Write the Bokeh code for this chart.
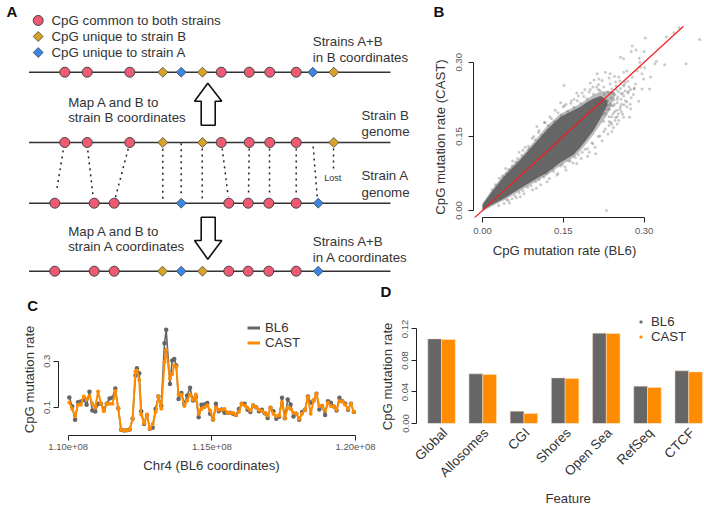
from math import pi
from bokeh.core.properties import value
from bokeh.embed import file_html
from bokeh.models import FixedTicker, Legend, LegendItem, Range1d
from bokeh.plotting import figure
from bokeh.resources import INLINE

FONT = "Liberation Sans"
GREY = "#666666"
ORANGE = "#FF8C00"
RED = "#EE5A72"
GOLD = "#D9A328"
BLUE = "#3B86E2"

# ---------- Panel A: schematic (positions along each genome line) ----------
line_b_merged_circles = [64.3, 86.7, 129.3, 220.7, 248.7, 269.3, 295.7]
line_b_merged_gold = [162.3, 202, 333.3]
line_b_merged_blue = [180.7, 312.3]
line_b_circles = [64.3, 86.7, 129.3, 220.7, 248.7, 269.3, 295.7]
line_b_gold = [162.3, 202, 333.3]
line_a_circles = [54.3, 93.7, 113.7, 228.3, 247.7, 268.3, 295.7]
line_a_blue = [180.7, 317.7]
line_a_merged_circles = [54.3, 93.7, 113.7, 228.3, 247.7, 268.3, 295.7]
line_a_merged_gold = [162, 202]
line_a_merged_blue = [180.7, 317.7]
genome_rows = [71.7, 142, 202.7, 270.7]
link_x0 = [62.7, 87.3, 127.7, 162.3, 180.7, 201.7, 221.7, 248.7, 269, 295.7, 312.7, 333]
link_y0 = [150, 150, 148.3, 148.3, 142.7, 148, 148, 148, 148, 148, 146, 148]
link_x1 = [56, 92.7, 115, 162.3, 180.7, 201.7, 227.7, 248, 269, 295.7, 316.7, 333]
link_y1 = [190.7, 196.7, 196.7, 199.3, 196.7, 199.3, 196, 196, 196, 196, 196.7, 171.7]
a_text = ["CpG common to both strains", "CpG unique to strain B", "CpG unique to strain A",
          "Strains A+B", "in B coordinates", "Map A and B to", "strain B coordinates",
          "Strain B", "genome", "Strain A", "genome", "Map A and B to",
          "strain A coordinates", "Strains A+B", "in A coordinates"]
a_text_x = [51, 51, 51, 312.3, 312.3, 67.7, 67.7, 361, 361, 361, 361, 67.7, 67.7, 312.3, 312.3]
a_text_y = [20, 36, 52, 41, 57, 101.7, 117.3, 115, 131, 175.3, 192, 230.7, 246.3, 241, 257]
up_arrow_x = [207.3, 221.3, 214.7, 214.7, 200.7, 200.7, 194]
up_arrow_y = [82.7, 100.7, 100.7, 124.7, 124.7, 100.7, 100.7]
down_arrow_x = [200.7, 214.7, 214.7, 221.3, 207.3, 194, 200.7]
down_arrow_y = [216.7, 216.7, 240, 240, 258.7, 240, 240]

# ---------- Panel B: values ----------
cloud_x = [0, .0148, .039, .0705, .0983, .1206, .1447, .1688, .1818, .1948, .2059, .2189, .232]
cloud_hi = [.012, .034, .068, .103, .137, .165, .190, .203, .210, .220, .226, .232, .222]
cloud_lo = [0, .010, .024, .045, .063, .077, .097, .113, .128, .146, .162, .186, .214]
halo_x = [0, .0148, .039, .0705, .0983, .1206, .1447, .1688, .1818, .1948, .2059, .2189, .232, .246]
halo_hi = [.014, .038, .073, .108, .143, .172, .196, .209, .216, .226, .234, .241, .242, .240]
halo_lo = [-.002, .007, .020, .040, .058, .072, .091, .107, .121, .138, .154, .174, .194, .232]
scatter_points = [
    (.365, .370), (.341, .351), (.355, .360), (.302, .349), (.403, .346), (.278, .333), (.285, .325),
    (.276, .322), (.300, .322), (.256, .310), (.262, .307), (.291, .308), (.292, .300), (.323, .302),
    (.320, .297), (.338, .295), (.378, .297), (.301, .289), (.293, .290), (.287, .283), (.312, .270),
    (.299, .266), (.310, .246), (.296, .246), (.281, .246), (.271, .241), (.290, .221), (.275, .206),
    (.262, .189), (.273, .189), (.213, .277), (.228, .280), (.207, .264), (.216, .266), (.262, .280),
    (.278, .270), (.268, .283), (.265, .260), (.253, .270), (.237, .277), (.247, .260), (.237, .256),
    (.222, .263), (.284, .256), (.296, .277), (.215, .255), (.225, .250), (.235, .268), (.245, .272),
    (.255, .262), (.262, .252), (.270, .262), (.275, .245), (.280, .235), (.260, .238), (.250, .225),
    (.265, .222), (.255, .205), (.245, .200), (.250, .190), (.258, .215), (.240, .212), (.232, .205),
    (.225, .195), (.240, .190), (.235, .180), (.225, .180), (.245, .215), (.215, .245), (.205, .250),
    (.200, .258), (.198, .240), (.190, .245), (.185, .238), (.178, .232), (.170, .225), (.175, .238),
    (.165, .222), (.155, .215), (.150, .210), (.145, .218), (.135, .203), (.125, .190), (.115, .178),
    (.105, .162), (.095, .150), (.085, .130), (.075, .122), (.065, .105), (.055, .090), (.045, .075),
    (.035, .060), (.025, .045), (.015, .025), (.151, .253), (.230, .000), (.101, .170),
    (.030, .010), (.045, .022), (.060, .030), (.075, .040), (.090, .050), (.105, .062), (.118, .075),
    (.130, .085), (.145, .090), (.160, .100), (.172, .108), (.185, .118), (.195, .125), (.205, .135),
    (.215, .150), (.225, .160), (.235, .172), (.050, .015), (.070, .028), (.100, .045), (.120, .058),
    (.140, .075), (.155, .082), (.175, .095), (.195, .110), (.210, .115), (.240, .160), (.250, .175),
    (.018, .042), (.024, .052), (.031, .066), (.037, .070), (.043, .085), (.049, .083), (.056, .100),
    (.062, .098), (.068, .118), (.073, .112), (.079, .128), (.086, .124), (.092, .146), (.098, .143),
    (.104, .158), (.110, .153), (.116, .178), (.122, .172), (.128, .186), (.134, .180), (.140, .198),
    (.146, .193), (.152, .212), (.158, .201), (.164, .217), (.170, .209), (.176, .222), (.182, .217),
    (.188, .231), (.194, .226), (.200, .245), (.206, .236), (.212, .250), (.218, .243),
    (.040, .014), (.048, .020), (.055, .024), (.063, .026), (.068, .036), (.077, .034), (.084, .047),
    (.093, .042), (.099, .058), (.108, .052), (.114, .068), (.124, .065), (.132, .079), (.138, .072),
    (.148, .093), (.153, .088), (.163, .100), (.168, .096), (.178, .113), (.183, .105), (.190, .124),
    (.198, .118), (.203, .137), (.209, .128), (.218, .151), (.222, .141), (.228, .165), (.233, .155),
    (.238, .178), (.243, .168), (.247, .188), (.253, .182),
    (.205, .215), (.212, .222), (.219, .228), (.226, .235), (.233, .240), (.240, .246), (.248, .252),
    (.210, .200), (.218, .208), (.225, .215), (.232, .222), (.239, .228), (.246, .235), (.253, .240),
    (.228, .198), (.236, .205), (.243, .212), (.250, .218), (.257, .225), (.262, .232), (.235, .190),
    (.242, .196), (.249, .203), (.256, .210), (.263, .214), (.268, .220), (.240, .175), (.246, .182),
    (.252, .196), (.258, .200), (.222, .228), (.229, .222), (.237, .215), (.244, .224), (.251, .230),
    (.258, .236), (.265, .242), (.272, .250), (.226, .205), (.233, .212), (.241, .238), (.249, .244),
    (.256, .247), (.263, .255), (.270, .238), (.276, .228), (.282, .248), (.268, .210), (.260, .195),
    (.274, .215)]
out_x = [pt[0] for pt in scatter_points]
out_y = [pt[1] for pt in scatter_points]
identity_line = [-.03, .373]
b_ticks = [0, .15, .30]
b_labels = ["0.00", "0.15", "0.30"]

# ---------- Panel C: values ----------
pos_mb = [110.04, 110.14, 110.24, 110.34, 110.44, 110.54, 110.64, 110.74, 110.84, 110.94,
          111.04, 111.14, 111.24, 111.34, 111.44, 111.54, 111.64, 111.74, 111.84, 111.94,
          112.04, 112.14, 112.24, 112.34, 112.39, 112.47, 112.54, 112.64, 112.74, 112.84,
          112.94, 113.04, 113.14, 113.24, 113.35, 113.41, 113.54, 113.62, 113.69, 113.76,
          113.84, 113.94, 114.04, 114.14, 114.24, 114.34, 114.44, 114.54, 114.64, 114.74,
          114.84, 114.94, 115.04, 115.14, 115.24, 115.34, 115.44, 115.54, 115.64, 115.74,
          115.84, 115.94, 116.04, 116.14, 116.24, 116.34, 116.44, 116.54, 116.64, 116.74,
          116.84, 116.94, 117.04, 117.14, 117.24, 117.34, 117.44, 117.54, 117.64, 117.74,
          117.84, 117.94, 118.04, 118.14, 118.24, 118.34, 118.44, 118.54, 118.64, 118.74,
          118.84, 118.94, 119.04, 119.14, 119.24, 119.34, 119.44, 119.54, 119.64, 119.74,
          119.84, 119.94]
bl6_rate = [.143, .104, .047, .123, .126, .133, .112, .168, .087, .083,
            .116, .116, .094, .116, .139, .142, .182, .097, .004, .001,
            .002, .005, .051, .238, .270, .248, .084, .029, .068, .008,
            .012, .094, .148, .106, .378, .436, .202, .303, .310, .281,
            .137, .163, .116, .152, .185, .130, .145, .058, .112, .113,
            .119, .073, .048, .116, .084, .091, .077, .077, .077, .073,
            .068, .094, .116, .116, .090, .080, .109, .101, .084, .090,
            .075, .055, .099, .084, .051, .060, .142, .054, .135, .113,
            .061, .073, .047, .080, .090, .148, .120, .130, .159, .091,
            .106, .068, .127, .120, .104, .087, .142, .127, .116, .090,
            .116, .080]
cast_rate = [.122, .094, .063, .112, .112, .148, .137, .150, .116, .100,
             .169, .116, .084, .116, .116, .116, .171, .097, .004, .001,
             .002, .005, .051, .256, .260, .220, .070, .032, .070, .008,
             .029, .080, .148, .095, .296, .349, .224, .245, .281, .277,
             .155, .155, .106, .130, .156, .133, .156, .073, .094, .101,
             .109, .087, .048, .099, .090, .090, .094, .077, .077, .076,
             .068, .080, .116, .109, .099, .087, .109, .101, .090, .085,
             .076, .065, .099, .073, .062, .065, .123, .054, .099, .094,
             .077, .073, .051, .073, .090, .145, .073, .130, .159, .106,
             .106, .087, .120, .106, .104, .090, .127, .127, .112, .094,
             .116, .080]
c_xticks = [110, 115, 120]
c_xlabels = ["1.10e+08", "1.15e+08", "1.20e+08"]
c_yticks = [.1, .3]
c_ylabels = ["0.1", "0.3"]

# ---------- Panel D: values ----------
features = ["Global", "Allosomes", "CGI", "Shores", "Open Sea", "RefSeq", "CTCF"]
feat_bl6 = [.1074, .0630, .0156, .0579, .1146, .0474, .0668]
feat_cast = [.1066, .0622, .0127, .0571, .1142, .0457, .0655]
d_yticks = [0, .04, .08, .12]
d_ylabels = ["0.00", "0.04", "0.08", "0.12"]


def style_axis(ax, tick_standoff):
    ax.major_label_text_font = FONT
    ax.major_label_text_font_size = "9.5px"
    ax.major_label_text_color = "#555555"
    ax.major_label_standoff = tick_standoff
    ax.major_tick_in = 0
    ax.major_tick_out = 5
    ax.minor_tick_out = 0
    ax.minor_tick_in = 0
    ax.axis_line_color = "#222222"
    ax.major_tick_line_color = "#222222"
    ax.axis_line_width = 1
    ax.major_tick_line_width = 1


def base_fig(px, py, w, h, xr, yr, left, right, top, bottom):
    p = figure(width=w, height=h, x_range=Range1d(*xr), y_range=Range1d(*yr),
               toolbar_location=None, output_backend="svg",
               min_border_left=left, min_border_right=right, min_border_top=top,
               min_border_bottom=bottom,
               styles={"position": "absolute", "left": f"{px}px", "top": f"{py}px"})
    p.grid.visible = False
    p.outline_line_color = None
    return p


# Panel A
pa = base_fig(0, 0, 420, 278, (0, 420), (278, 0), 0, 0, 0, 0)
pa.xaxis.visible = False
pa.yaxis.visible = False
for y0 in genome_rows:
    pa.line([28.5, 390], [y0, y0], line_color="#333333", line_width=1.6)
pa.segment(link_x0, link_y0, link_x1, link_y1, line_color="#222222", line_width=1.5, line_dash="2 4")


def marks(p, xs, y0, kind):
    ys = [y0] * len(xs)
    if kind == "c":
        p.scatter(xs, ys, marker="circle", size=10, fill_color=RED, line_color="#444444", line_width=1)
    else:
        p.scatter(xs, ys, marker="square", size=7, angle=pi / 4, fill_color=GOLD if kind == "g" else BLUE,
                  line_color="#444444", line_width=0.8)


marks(pa, [37.7], 20, "c")
marks(pa, [37.7], 36, "g")
marks(pa, [37.7], 52, "b")
marks(pa, line_b_merged_circles, genome_rows[0], "c")
marks(pa, line_b_merged_gold, genome_rows[0], "g")
marks(pa, line_b_merged_blue, genome_rows[0], "b")
marks(pa, line_b_circles, genome_rows[1], "c")
marks(pa, line_b_gold, genome_rows[1], "g")
marks(pa, line_a_circles, genome_rows[2], "c")
marks(pa, line_a_blue, genome_rows[2], "b")
marks(pa, line_a_merged_circles, genome_rows[3], "c")
marks(pa, line_a_merged_gold, genome_rows[3], "g")
marks(pa, line_a_merged_blue, genome_rows[3], "b")
pa.patch(up_arrow_x, up_arrow_y, fill_color="white", line_color="#111111", line_width=1.6)
pa.patch(down_arrow_x, down_arrow_y, fill_color="white", line_color="#111111", line_width=1.6)
pa.text(a_text_x, a_text_y, text=a_text, text_font=value(FONT), text_font_size="13.3px",
        text_color="#333333", text_baseline="middle")
pa.text([332.3], [177.7], text=["Lost"], text_font=value(FONT), text_font_size="9px",
        text_color="#333333", text_baseline="middle", text_align="center")

# Panel B
pb = base_fig(420, 0, 284, 278, (-.0167, .412), (-.0142, .3745), 53, 0, 25, 61)
pb.xaxis.ticker = FixedTicker(ticks=b_ticks)
pb.yaxis.ticker = FixedTicker(ticks=b_ticks)
pb.xaxis.bounds = (0, .30)
pb.yaxis.bounds = (0, .30)
pb.xaxis.major_label_overrides = dict(zip(b_ticks, b_labels))
pb.yaxis.major_label_overrides = dict(zip(b_ticks, b_labels))
style_axis(pb.xaxis[0], 5)
style_axis(pb.yaxis[0], 6)
pb.yaxis.major_label_orientation = "vertical"
pb.varea(halo_x, halo_lo, halo_hi, fill_color="#777777", fill_alpha=0.5)
pb.varea(cloud_x, cloud_lo, cloud_hi, fill_color=GREY)
pb.scatter(out_x, out_y, marker="circle", size=3, fill_color=GREY, fill_alpha=0.35, line_color=None)
pb.line(identity_line, identity_line, line_color="#F02020", line_width=1.2)

# Panel C
pc = base_fig(0, 278, 377, 227, (109.662, 120.59), (-.021, .6486), 58, 5, 2, 70)
pc.xaxis.ticker = FixedTicker(ticks=c_xticks)
pc.yaxis.ticker = FixedTicker(ticks=c_yticks)
pc.xaxis.bounds = (110, 120)
pc.yaxis.bounds = (.1, .3)
pc.xaxis.major_label_overrides = dict(zip(c_xticks, c_xlabels))
pc.yaxis.major_label_overrides = dict(zip(c_yticks, c_ylabels))
style_axis(pc.xaxis[0], 3)
style_axis(pc.yaxis[0], 3)
pc.yaxis.major_label_orientation = "vertical"
pc.line(pos_mb, bl6_rate, line_color=GREY, line_width=1.6)
pc.scatter(pos_mb, bl6_rate, marker="circle", size=4.5, fill_color=GREY, line_color=None)
pc.line(pos_mb, cast_rate, line_color=ORANGE, line_width=2)
pc.scatter(pos_mb, cast_rate, marker="circle", size=4, fill_color=ORANGE, line_color=None)
off = [0, 1]
kb = pc.line(off, off, line_color=GREY, line_width=3)
kc = pc.line(off, off, line_color=ORANGE, line_width=3)
pc.add_layout(Legend(items=[LegendItem(label="BL6", renderers=[kb]), LegendItem(label="CAST", renderers=[kc])],
                     location=(189, 85), background_fill_alpha=0, border_line_alpha=0, glyph_width=13,
                     glyph_height=15, label_height=15, spacing=0, padding=0, margin=0, label_standoff=5,
                     label_text_font=FONT, label_text_font_size="13.2px", label_text_color="#333333"))

# Panel D
pd_ = base_fig(377, 278, 327, 227, (-.823, 20.15), (0, .1815), 39, 0, 2, 82)
group_x = [3 * i + 1 for i in range(len(features))]
label_x = [g + .25 for g in group_x]
pd_.xaxis.ticker = FixedTicker(ticks=label_x)
pd_.xaxis.major_label_overrides = dict(zip(label_x, features))
pd_.yaxis.ticker = FixedTicker(ticks=d_yticks)
pd_.yaxis.bounds = (0, .12)
pd_.yaxis.major_label_overrides = dict(zip(d_yticks, d_ylabels))
style_axis(pd_.xaxis[0], 2)
style_axis(pd_.yaxis[0], 3)
pd_.yaxis.major_label_orientation = "vertical"
ax = pd_.xaxis[0]
ax.axis_line_color = None
ax.major_tick_line_color = None
ax.major_label_text_font_size = "13.5px"
ax.major_label_text_color = "#333333"
ax.major_label_orientation = pi / 4
pd_.vbar([g - .5 for g in group_x], 1, feat_bl6, 0, fill_color=GREY, line_color="#f3d9c0", line_width=0.5)
pd_.vbar([g + .5 for g in group_x], 1, feat_cast, 0, fill_color=ORANGE, line_color="#fbe6cf", line_width=0.5)
off2 = [-5, -6]
sb = pd_.scatter(off2, off2, marker="square", size=6, fill_color=GREY, line_color=None)
sc = pd_.scatter(off2, off2, marker="square", size=6, fill_color=ORANGE, line_color=None)
pd_.add_layout(Legend(items=[LegendItem(label="BL6", renderers=[sb]), LegendItem(label="CAST", renderers=[sc])],
                      location=(221, 79), background_fill_alpha=0, border_line_alpha=0, glyph_width=7,
                      glyph_height=15, label_height=15, spacing=0, padding=0, margin=0, label_standoff=7,
                      label_text_font=FONT, label_text_font_size="13.2px", label_text_color="#333333"))

# Panel letters and axis titles, set at their places on the page
letters = ["A", "B", "C", "D"]
letter_x = [6, 433, 26.7, 380]
letter_y = [10.7, 10.7, 305, 291]
titles_h = ["CpG mutation rate (BL6)", "Chr4 (BL6 coordinates)", "Feature"]
titles_h_x = [564, 211, 567.7]
titles_h_y = [250, 465, 498]
titles_v = ["CpG mutation rate (CAST)", "CpG mutation rate", "CpG mutation rate"]
titles_v_x = [440, 29, 386.7]
titles_v_y = [136.5, 379, 376]

top = base_fig(0, 0, 704, 505, (0, 704), (505, 0), 0, 0, 0, 0)
top.xaxis.visible = False
top.yaxis.visible = False
top.background_fill_alpha = 0
top.border_fill_alpha = 0
top.text(letter_x, letter_y, text=letters, text_font=value(FONT), text_font_size="15px",
         text_font_style="bold", text_color="#111111", text_baseline="middle")
top.text(titles_h_x, titles_h_y, text=titles_h, text_font=value(FONT), text_font_size="13.2px",
         text_color="#333333", text_baseline="middle", text_align="center")
top.text(titles_v_x, titles_v_y, text=titles_v, text_font=value(FONT), text_font_size="13.2px",
         text_color="#333333", text_baseline="middle", text_align="center", angle=pi / 2)

open("out.html", "w").write(file_html([pa, pb, pc, pd_, top], INLINE))
